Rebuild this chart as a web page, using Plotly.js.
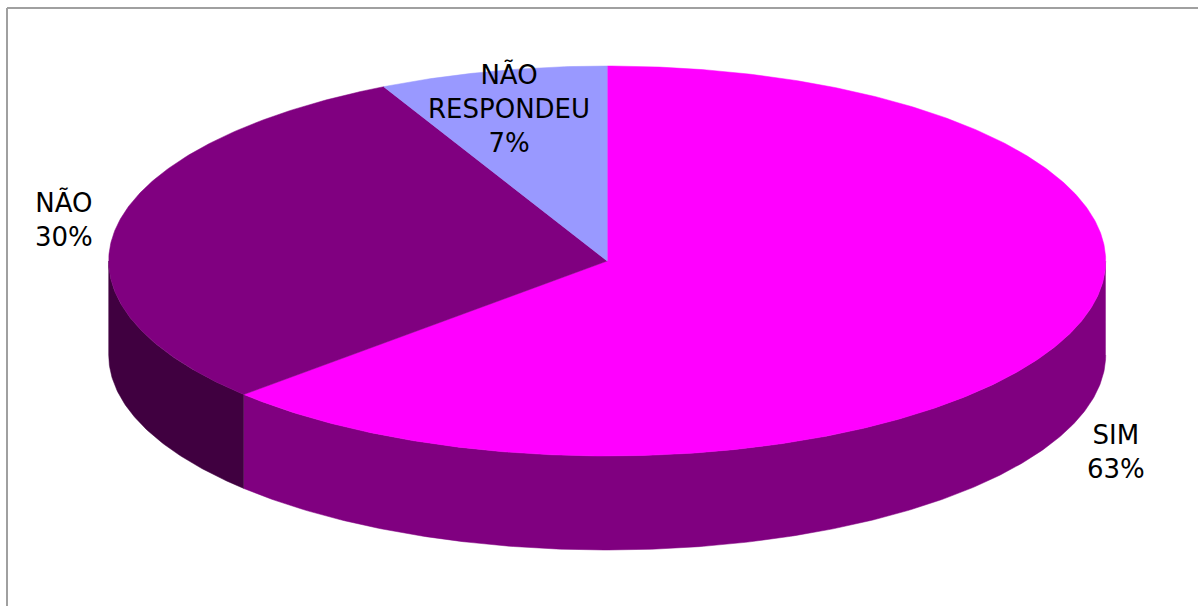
<!DOCTYPE html>
<html>
<head>
<meta charset="utf-8">
<script src="https://cdn.plot.ly/plotly-3.0.1.min.js"></script>
<style>html,body{margin:0;padding:0;background:#fff}#chart{width:1198px;height:606px}</style>
</head>
<body>
<div id="chart"></div>
<script>
const categories = ["SIM", "NÃO", "NÃO<br>RESPONDEU"];
const values = [63, 29.6, 7.4];
const topColors = ["#FF00FF", "#800080", "#9999FF"];
const sideColors = ["#800080", "#400040", "#4D4D80"];
const labelX = [1115.5, 63.5, 508.5];
const labelY = [451.5, 219.5, 108];

const cx = 607.2, cy = 261, rx = 498.5, ry = 195, depth = 94;
const total = values.reduce((a, b) => a + b, 0);
const px = d => cx + rx * Math.sin(d * Math.PI / 180);
const py = (d, off) => cy - ry * Math.cos(d * Math.PI / 180) + off;
const range = (a, b) => { const r = []; const n = Math.max(2, Math.ceil(Math.abs(b - a) * 2)); for (let i = 0; i <= n; i++) r.push(a + (b - a) * i / n); return r; };

const sideTraces = [], topTraces = [];
let start = 0;
values.forEach((v, i) => {
  const end = start + v / total * 360;
  const a = Math.max(start, 90), b = Math.min(end, 270);
  if (b > a) {
    const arc = range(a, b);
    const back = arc.slice().reverse();
    sideTraces.push({
      type: "scatter", mode: "lines", fill: "toself", fillcolor: sideColors[i],
      line: { width: 0.5, color: sideColors[i] }, hoverinfo: "skip", showlegend: false,
      x: arc.map(px).concat(back.map(px)),
      y: arc.map(d => py(d, 0)).concat(back.map(d => py(d, depth)))
    });
  }
  const arc = range(start, end);
  topTraces.push({
    type: "scatter", mode: "lines", fill: "toself", fillcolor: topColors[i],
    line: { width: 0.5, color: topColors[i] }, hoverinfo: "skip", showlegend: false,
    x: [cx].concat(arc.map(px), [cx]),
    y: [cy].concat(arc.map(d => py(d, 0)), [cy])
  });
  start = end;
});

const annotations = categories.map((c, i) => ({
  x: labelX[i], y: labelY[i], xref: "x", yref: "y", showarrow: false,
  text: c + "<br>" + Math.round(values[i] / total * 100) + "%",
  align: "center", xanchor: "center", yanchor: "middle",
  font: { family: "DejaVu Sans", size: 26, color: "#000" }
}));

const border = "#a0a0a0";
Plotly.newPlot("chart", sideTraces.concat(topTraces), {
  width: 1198, height: 606,
  margin: { l: 0, r: 0, t: 0, b: 0 },
  paper_bgcolor: "#fff", plot_bgcolor: "#fff",
  xaxis: { visible: false, range: [0, 1198], fixedrange: true },
  yaxis: { visible: false, range: [606, 0], fixedrange: true },
  annotations,
  shapes: [
    { type: "line", x0: 7, x1: 1198, y0: 8, y1: 8, xref: "x", yref: "y", line: { color: border, width: 2 } },
    { type: "line", x0: 7, x1: 7, y0: 8, y1: 606, xref: "x", yref: "y", line: { color: border, width: 2 } }
  ]
}, { displayModeBar: false, staticPlot: true });
</script>
</body>
</html>
